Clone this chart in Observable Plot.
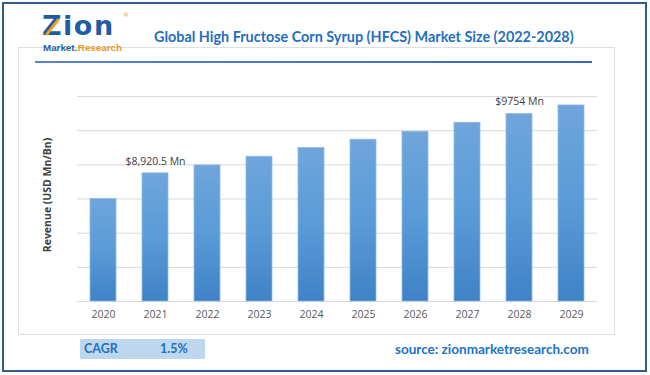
<!DOCTYPE html>
<html>
<head>
<meta charset="utf-8">
<script src="https://cdn.jsdelivr.net/npm/d3@7"></script>
<script src="https://cdn.jsdelivr.net/npm/@observablehq/plot@0.6"></script>
<style>
  html, body { margin: 0; padding: 0; background: #fff; }
  #frame { position: relative; width: 650px; height: 375px; background: #fff; overflow: hidden; font-family: Lato, "Open Sans", sans-serif; }
  .abs { position: absolute; white-space: nowrap; }
  .sub { font-family: 'Liberation Sans'; font-weight: bold; font-size: 9.8px; line-height: 10px; }
</style>
</head>
<body>
<div id="frame">
  <div class="abs" style="left:2px;top:2px;width:641px;height:366px;border:2px solid #2f5d8c;"></div>
  <div class="abs" style="left:18px;top:47px;width:595px;height:286px;border:1px solid #d9e0e8;"></div>
  <div class="abs" style="left:35px;top:61px;width:557px;height:2px;background:linear-gradient(to right,#5a82d0,#3b66bd);"></div>
  <!-- logo -->
  <div class="abs" id="logoMain" style="left:42px;top:14px;font-family:'DejaVu Sans';font-weight:bold;font-size:27px;letter-spacing:1.5px;color:#1d5ea3;line-height:24px;">Zion</div>
  <div class="abs" style="left:51px;top:17px;width:3px;height:20px;background:#f0a020;transform:rotate(38deg);"></div>
  <div class="abs" style="left:123px;top:11px;font-size:6px;line-height:7px;color:#f0a020;font-family:'DejaVu Sans';">®</div>
  <div class="abs sub" id="subA" style="left:43px;top:42.5px;color:#1d5ea3;">Market.</div>
  <div class="abs sub" id="subB" style="left:82px;top:42.5px;color:#f0961e;">Research</div>
  <!-- title -->
  <div class="abs" id="title" style="left:154px;top:29px;font-weight:bold;font-size:13.5px;color:#1f6fc0;line-height:16px;">Global High Fructose Corn Syrup (HFCS) Market Size (2022-2028)</div>
  <!-- chart -->
  <div id="chart" class="abs" style="left:0;top:80px;"></div>
  <!-- footer -->
  <div class="abs" style="left:80px;top:339px;width:125px;height:20px;background:#bdd7ee;"></div>
  <div class="abs" style="left:84px;top:341px;font-weight:bold;font-size:12.5px;color:#1f6fc0;line-height:16px;">CAGR</div>
  <div class="abs" id="cagr" style="left:160px;top:341px;font-weight:bold;font-size:12.5px;color:#1f6fc0;line-height:16px;">1.5%</div>
  <div class="abs" id="source" style="left:395px;top:341px;font-weight:bold;font-size:13px;color:#1a73c8;line-height:16px;">source: zionmarketresearch.com</div>
</div>
<script>
// ---- data ----
const years = ["2020","2021","2022","2023","2024","2025","2026","2027","2028","2029"];
const revenue = [8561, 8920.5, 9032, 9154, 9276, 9393, 9505, 9631, 9754, 9874];
const labelYears = ["2021", "2028"];
const labelTexts = ["$8,920.5 Mn", "$9754 Mn"];
const yBase = 7120;
const yTop = 10000;
const gridValues = [7120, 7600, 8080, 8560, 9040, 9520, 10000];
const yAxisTitle = "Revenue (USD Mn/Bn)";

const data = years.map((y, i) => ({year: y, value: revenue[i]}));
const labels = labelYears.map((y, i) => ({year: y, value: revenue[years.indexOf(y)], text: labelTexts[i]}));

// fit text to target width
function fit(id, target) {
  const el = document.getElementById(id);
  const w = el.getBoundingClientRect().width;
  const fs = parseFloat(getComputedStyle(el).fontSize);
  el.style.fontSize = (fs * target / w) + "px";
}
fit("title", 420);
fit("source", 194);
// place "Research" right after "Market."
const a = document.getElementById("subA").getBoundingClientRect();
document.getElementById("subB").style.left = (a.right + 0.5) + "px";

const plot = Plot.plot({
  width: 650,
  height: 250,
  marginLeft: 77,
  marginRight: 53,
  marginTop: 16,
  marginBottom: 29,
  style: {background: "transparent", fontFamily: "'Open Sans', sans-serif"},
  x: {domain: years, paddingInner: 0.5, paddingOuter: 0.25, label: null, tickSize: 0, tickPadding: 9},
  y: {domain: [yBase, yTop], axis: null},
  marks: [
    Plot.ruleY(gridValues, {stroke: "#d9d9d9", strokeWidth: 1}),
    Plot.barY(data, {x: "year", y1: yBase, y2: "value", fill: "url(#barGrad)", stroke: "#8fbbe6", strokeWidth: 0.8}),
    Plot.text(labels, {x: "year", y: "value", text: "text", dy: -12, fontSize: 10.5, fill: "#404040"}),
    Plot.text([yAxisTitle], {frameAnchor: "left", textAnchor: "middle", dx: -30, dy: -4, rotate: -90, fontSize: 10.5, fontWeight: "bold", fill: "#404040"}),
    Plot.axisX({tickSize: 0, tickPadding: 9, fontSize: 10.5, color: "#595959", label: null})
  ]
});
document.getElementById("chart").appendChild(plot);

const svg = d3.select(plot);
const defs = svg.insert("defs", ":first-child");
const g = defs.append("linearGradient").attr("id", "barGrad").attr("x1", 0).attr("y1", 0).attr("x2", 0).attr("y2", 1);
g.append("stop").attr("offset", "0%").attr("stop-color", "#6fa5db");
g.append("stop").attr("offset", "50%").attr("stop-color", "#5a9bd8");
g.append("stop").attr("offset", "100%").attr("stop-color", "#3f82c6");
</script>
</body>
</html>
